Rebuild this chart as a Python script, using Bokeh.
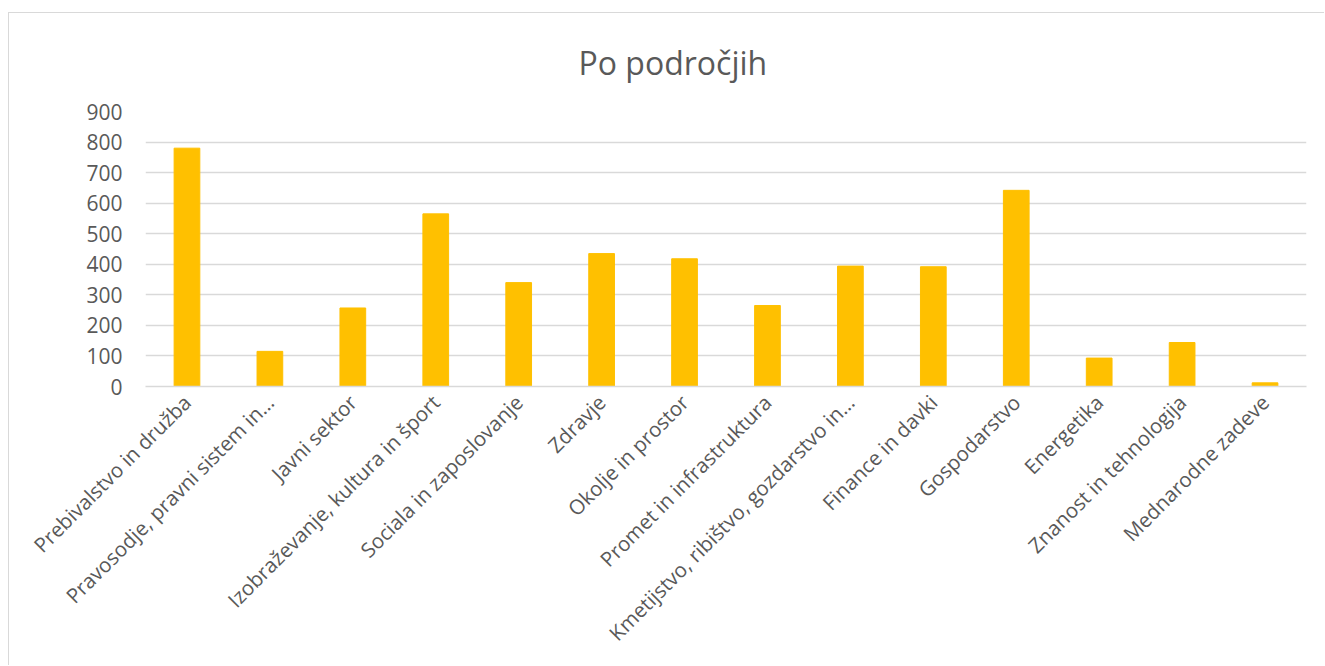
from math import pi
from bokeh.plotting import figure
from bokeh.models import Range1d, FactorRange, SingleIntervalTicker
from bokeh.embed import file_html
from bokeh.resources import INLINE

categories = [
    "Prebivalstvo in družba",
    "Pravosodje, pravni sistem in…",
    "Javni sektor",
    "Izobraževanje, kultura in šport",
    "Sociala in zaposlovanje",
    "Zdravje",
    "Okolje in prostor",
    "Promet in infrastruktura",
    "Kmetijstvo, ribištvo, gozdarstvo in…",
    "Finance in davki",
    "Gospodarstvo",
    "Energetika",
    "Znanost in tehnologija",
    "Mednarodne zadeve",
]
values = [780, 115, 257, 565, 340, 435, 418, 265, 394, 392, 642, 93, 144, 12]
title_text = "Po področjih"

FONT = "Open Sans"
GRAY = "#595959"

p = figure(
    width=1316, height=653,
    x_range=FactorRange(*categories, range_padding=0),
    y_range=Range1d(0, 900),
    output_backend="svg", toolbar_location=None,
    min_border_left=136, min_border_right=19, min_border_top=98, min_border_bottom=280,
    title=title_text,
)
p.margin = (12, 0, 0, 8)
p.styles = {"border-top": "1px solid #d9d9d9", "border-left": "1px solid #d9d9d9"}
p.outline_line_color = None

p.title.align = "left"
p.title.vertical_align = "top"
p.title.offset = 433
p.title.text_font = FONT
p.title.text_font_size = "32px"
p.title.text_font_style = "normal"
p.title.text_color = GRAY
p.title.standoff = 52

p.vbar(x=categories, top=values, width=0.31, color="#FFC000")

p.yaxis.ticker = SingleIntervalTicker(interval=100)
p.yaxis.axis_line_color = None
p.yaxis.major_tick_line_color = None
p.yaxis.minor_tick_line_color = None
p.yaxis.major_label_standoff = 17
p.yaxis.major_label_text_font = FONT
p.yaxis.major_label_text_font_size = "21px"
p.yaxis.major_label_text_color = GRAY

p.xaxis.axis_line_color = "#d9d9d9"
p.xaxis.axis_line_width = 1.5
p.xaxis.major_tick_line_color = None
p.xaxis.minor_tick_line_color = None
p.xaxis.major_label_orientation = pi / 4
p.xaxis.major_label_standoff = 6
p.xaxis.major_label_text_font = FONT
p.xaxis.major_label_text_font_size = "20.5px"
p.xaxis.major_label_text_color = GRAY

p.xgrid.grid_line_color = None
p.ygrid.grid_line_color = "#d9d9d9"
p.ygrid.grid_line_width = 1.5

open("out.html", "w").write(file_html(p, INLINE))
